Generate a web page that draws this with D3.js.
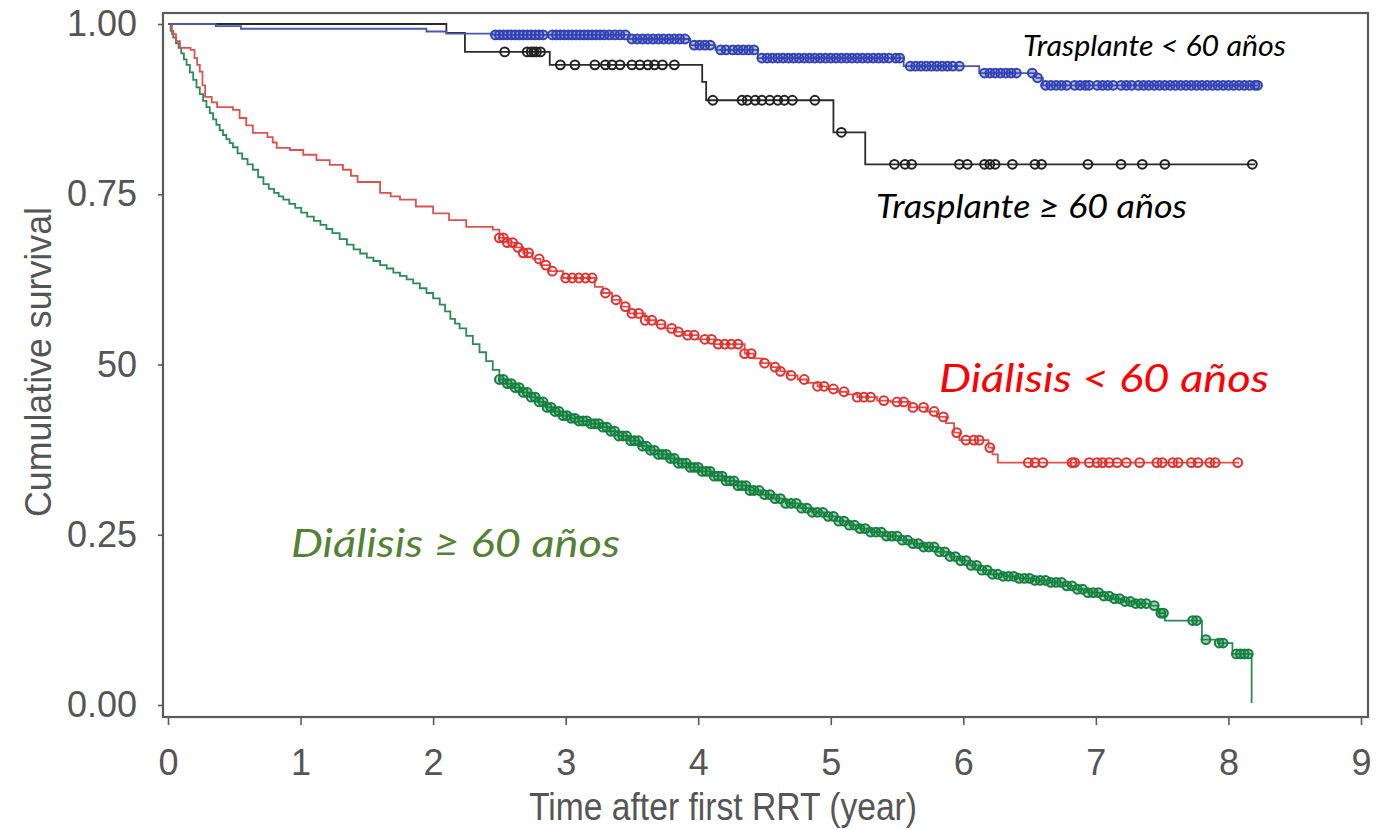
<!DOCTYPE html>
<html>
<head>
<meta charset="utf-8">
<script src="https://cdn.jsdelivr.net/npm/d3@7"></script>
<style>
  html, body { margin: 0; padding: 0; background: #fff; }
  svg { display: block; }
</style>
</head>
<body>
<svg id="chart" width="1377" height="830"></svg>
<script>
// Kaplan-Meier survival by renal replacement therapy and age group

const xTicks = [0, 1, 2, 3, 4, 5, 6, 7, 8, 9];
const yTicks = [0, 0.25, 0.5, 0.75, 1];
const yTickLabels = ["0.00", "0.25", "50", "0.75", "1.00"];

// Trasplante < 60 años
const trasMenorT = [0, 0.36, 0.55, 1.95, 2.10, 2.45, 3.48, 3.94, 4.13, 4.45, 5.55, 6.12, 6.55, 6.60, 8.22];
const trasMenorS = [1.0, 0.997, 0.993, 0.989, 0.986, 0.984, 0.978, 0.969, 0.962, 0.950, 0.938, 0.928, 0.921, 0.910, 0.910];
const trasMenorCens = [2.47, 2.50, 2.53, 2.56, 2.59, 2.62, 2.65, 2.68, 2.71, 2.74, 2.77, 2.80, 2.83,
  2.90, 2.93, 2.96, 2.99, 3.02, 3.05, 3.08, 3.11, 3.14, 3.17, 3.20, 3.23, 3.26, 3.29, 3.33, 3.37, 3.41, 3.45,
  3.50, 3.54, 3.58, 3.62, 3.66, 3.70, 3.74, 3.78, 3.82, 3.86, 3.90, 3.97, 4.01, 4.05, 4.09,
  4.17, 4.21, 4.26, 4.30, 4.34, 4.38, 4.42, 4.48, 4.52, 4.56, 4.60, 4.64, 4.68, 4.72, 4.76, 4.80, 4.84,
  4.88, 4.92, 4.96, 5.00, 5.04, 5.08, 5.12, 5.16, 5.20, 5.24, 5.28, 5.32, 5.36, 5.40, 5.44, 5.49, 5.52,
  5.60, 5.64, 5.68, 5.72, 5.76, 5.80, 5.84, 5.88, 5.92, 5.97, 6.16, 6.20, 6.24, 6.28, 6.32, 6.36, 6.40,
  6.52, 6.56, 6.62, 6.66, 6.70, 6.74, 6.78, 6.84, 6.88, 6.92, 6.95, 7.01, 7.05, 7.09, 7.13, 7.19, 7.23,
  7.27, 7.32, 7.36, 7.40, 7.44, 7.48, 7.52, 7.56, 7.60, 7.64, 7.68, 7.72, 7.76, 7.80, 7.84, 7.88, 7.92,
  7.96, 8.00, 8.04, 8.08, 8.12, 8.16, 8.20, 8.22];

// Trasplante ≥ 60 años
const trasMayorT = [0, 2.10, 2.24, 2.88, 4.03, 4.06, 5.02, 5.26, 8.20];
const trasMayorS = [1.0, 0.987, 0.959, 0.940, 0.915, 0.888, 0.841, 0.794, 0.794];
const trasMayorCens = [2.54, 2.71, 2.74, 2.76, 2.78, 2.81, 2.96, 3.07, 3.22, 3.30, 3.35, 3.41, 3.50, 3.56,
  3.62, 3.67, 3.73, 3.82, 4.11, 4.33, 4.37, 4.43, 4.48, 4.54, 4.60, 4.65, 4.71, 4.88, 5.08, 5.48, 5.56,
  5.61, 5.97, 6.03, 6.16, 6.20, 6.24, 6.37, 6.54, 6.59, 6.94, 7.19, 7.35, 7.52, 8.18];

// Diálisis < 60 años
const dialMenorT = [0, 0.03, 0.06, 0.09, 0.17, 0.20, 0.22, 0.24, 0.26, 0.28, 0.33, 0.37, 0.49, 0.54, 0.59,
  0.64, 0.75, 0.79, 0.82, 0.92, 1.02, 1.12, 1.22, 1.32, 1.38, 1.43, 1.60, 1.68, 1.75, 1.87, 2.00, 2.12,
  2.25, 2.45, 2.50, 2.56, 2.62, 2.68, 2.75, 2.81, 2.88, 2.98, 3.22, 3.28, 3.35, 3.42, 3.48, 3.60, 3.68,
  3.75, 3.82, 3.90, 4.00, 4.12, 4.35, 4.42, 4.48, 4.55, 4.62, 4.68, 4.75, 4.82, 4.90, 4.97, 5.05, 5.12,
  5.20, 5.35, 5.45, 5.60, 5.72, 5.80, 5.87, 5.93, 5.97, 6.19, 6.22, 6.26, 8.08];
const dialMenorS = [1.0, 0.985, 0.975, 0.965, 0.962, 0.950, 0.940, 0.930, 0.910, 0.893, 0.885, 0.878, 0.874,
  0.862, 0.851, 0.840, 0.834, 0.826, 0.818, 0.815, 0.808, 0.800, 0.793, 0.786, 0.777, 0.768, 0.752, 0.747,
  0.742, 0.732, 0.722, 0.712, 0.702, 0.698, 0.686, 0.679, 0.672, 0.664, 0.655, 0.646, 0.637, 0.627, 0.614,
  0.605, 0.595, 0.585, 0.575, 0.565, 0.559, 0.553, 0.548, 0.543, 0.537, 0.530, 0.516, 0.509, 0.502, 0.496,
  0.490, 0.484, 0.478, 0.473, 0.468, 0.464, 0.460, 0.456, 0.452, 0.447, 0.445, 0.437, 0.431, 0.423, 0.414,
  0.400, 0.389, 0.378, 0.368, 0.356, 0.356];
const dialMenorCens = [2.50, 2.53, 2.56, 2.60, 2.64, 2.68, 2.72, 2.80, 2.85, 2.90, 3.00, 3.05, 3.10, 3.15,
  3.20, 3.30, 3.38, 3.45, 3.50, 3.55, 3.60, 3.65, 3.72, 3.80, 3.85, 3.92, 3.97, 4.05, 4.10, 4.15, 4.20,
  4.25, 4.30, 4.35, 4.40, 4.50, 4.58, 4.62, 4.70, 4.80, 4.90, 4.95, 5.02, 5.10, 5.20, 5.25, 5.30, 5.40,
  5.50, 5.55, 5.62, 5.70, 5.78, 5.85, 5.95, 6.02, 6.08, 6.12, 6.20, 6.49, 6.54, 6.60, 6.82, 6.84, 6.95,
  7.01, 7.05, 7.10, 7.16, 7.23, 7.33, 7.46, 7.50, 7.58, 7.62, 7.72, 7.77, 7.86, 7.90, 8.07];

// Diálisis ≥ 60 años
const dialMayorT = [0, 0.02, 0.04, 0.06, 0.08, 0.10, 0.12, 0.14, 0.165, 0.19, 0.215, 0.24, 0.265, 0.29,
  0.315, 0.34, 0.365, 0.39, 0.415, 0.44, 0.465, 0.49, 0.525, 0.56, 0.60, 0.64, 0.68, 0.72, 0.76, 0.80,
  0.835, 0.87, 0.915, 0.96, 1.005, 1.05, 1.10, 1.15, 1.195, 1.24, 1.295, 1.35, 1.40, 1.45, 1.50, 1.55,
  1.60, 1.65, 1.70, 1.75, 1.80, 1.85, 1.90, 1.95, 2.00, 2.05, 2.09, 2.13, 2.165, 2.20, 2.25, 2.30, 2.35,
  2.40, 2.45, 2.50, 2.55, 2.60, 2.665, 2.73, 2.79, 2.85, 2.905, 2.96, 3.03, 3.10, 3.18, 3.26, 3.33, 3.40,
  3.48, 3.56, 3.63, 3.70, 3.775, 3.85, 3.93, 4.01, 4.105, 4.20, 4.295, 4.39, 4.47, 4.55, 4.66, 4.77, 4.86,
  4.95, 5.045, 5.14, 5.22, 5.30, 5.41, 5.52, 5.61, 5.70, 5.80, 5.90, 5.975, 6.05, 6.125, 6.20, 6.30, 6.40,
  6.525, 6.65, 6.75, 6.85, 6.94, 7.03, 7.115, 7.20, 7.30, 7.40, 7.47, 7.52, 7.80, 7.92, 8.03, 8.175];
const dialMayorS = [1.0, 0.990, 0.980, 0.972, 0.965, 0.957, 0.948, 0.940, 0.929, 0.918, 0.907, 0.897, 0.887,
  0.878, 0.869, 0.860, 0.852, 0.844, 0.837, 0.831, 0.825, 0.819, 0.810, 0.802, 0.794, 0.786, 0.775, 0.765,
  0.758, 0.752, 0.747, 0.742, 0.736, 0.730, 0.723, 0.717, 0.711, 0.705, 0.699, 0.693, 0.684, 0.676, 0.669,
  0.663, 0.657, 0.652, 0.646, 0.641, 0.635, 0.630, 0.625, 0.619, 0.612, 0.605, 0.597, 0.588, 0.578, 0.567,
  0.560, 0.553, 0.542, 0.530, 0.518, 0.505, 0.492, 0.478, 0.472, 0.466, 0.459, 0.452, 0.445, 0.437, 0.431,
  0.425, 0.421, 0.417, 0.413, 0.408, 0.402, 0.395, 0.388, 0.380, 0.374, 0.368, 0.362, 0.355, 0.349, 0.343,
  0.336, 0.329, 0.322, 0.315, 0.309, 0.303, 0.296, 0.289, 0.283, 0.277, 0.270, 0.264, 0.259, 0.254, 0.248,
  0.242, 0.237, 0.232, 0.225, 0.218, 0.212, 0.205, 0.198, 0.192, 0.189, 0.186, 0.183, 0.180, 0.175, 0.170,
  0.165, 0.160, 0.156, 0.152, 0.149, 0.146, 0.135, 0.124, 0.096, 0.091, 0.075, 0.003];
const dialMayorCens = [2.50, 2.53, 2.56, 2.59, 2.62, 2.65, 2.68, 2.71, 2.74, 2.77, 2.80, 2.83, 2.86, 2.89,
  2.92, 2.95, 2.98, 3.01, 3.04, 3.07, 3.10, 3.13, 3.16, 3.19, 3.22, 3.25, 3.28, 3.31, 3.34, 3.37, 3.40,
  3.43, 3.46, 3.49, 3.52, 3.55, 3.58, 3.61, 3.64, 3.67, 3.70, 3.73, 3.76, 3.79, 3.82, 3.85, 3.88, 3.91,
  3.94, 3.97, 4.00, 4.03, 4.06, 4.09, 4.12, 4.15, 4.18, 4.21, 4.24, 4.27, 4.30, 4.33, 4.36, 4.39, 4.42,
  4.46, 4.50, 4.54, 4.58, 4.62, 4.66, 4.70, 4.74, 4.78, 4.82, 4.86, 4.90, 4.94, 4.98, 5.02, 5.06, 5.10,
  5.14, 5.18, 5.22, 5.26, 5.30, 5.34, 5.38, 5.42, 5.46, 5.50, 5.54, 5.58, 5.62, 5.66, 5.70, 5.74, 5.78,
  5.82, 5.86, 5.90, 5.94, 5.98, 6.02, 6.06, 6.10, 6.14, 6.18, 6.22, 6.26, 6.30, 6.34, 6.38, 6.42, 6.46,
  6.50, 6.54, 6.58, 6.62, 6.66, 6.70, 6.74, 6.78, 6.82, 6.86, 6.90, 6.94, 6.98, 7.02, 7.06, 7.10, 7.14,
  7.18, 7.22, 7.26, 7.30, 7.34, 7.38, 7.44, 7.49, 7.51, 7.73, 7.76, 7.83, 7.93, 7.96, 8.06, 8.09, 8.12, 8.15];

const series = [
  { T: dialMayorT, S: dialMayorS, cens: dialMayorCens, line: "#2a8c55", mark: "#15803f", fill: "#15803f" },
  { T: dialMenorT, S: dialMenorS, cens: dialMenorCens, line: "#e0504c", mark: "#e3322e", fill: "none" },
  { T: trasMayorT, S: trasMayorS, cens: trasMayorCens, line: "#2a2a2a", mark: "#222222", fill: "none" },
  { T: trasMenorT, S: trasMenorS, cens: trasMenorCens, line: "#4a58b0", mark: "#3242b4", fill: "#3242b4" }
];

const svg = d3.select("#chart");
const x = d3.scaleLinear().domain([0, 9]).range([168, 1361]);
const y = d3.scaleLinear().domain([0, 1]).range([705, 24]);

const frame = { left: 163, top: 13, right: 1368, bottom: 717 };
const axisColor = "#555";
const fontAxis = "'Liberation Sans', Arial, Helvetica, sans-serif";

// Plot box
svg.append("rect")
  .attr("x", frame.left).attr("y", frame.top)
  .attr("width", frame.right - frame.left).attr("height", frame.bottom - frame.top)
  .attr("fill", "none").attr("stroke", "#5a5a5a").attr("stroke-width", 2.2);

// Axes
const yAxis = d3.axisLeft(y).tickValues(yTicks)
  .tickFormat((d, i) => yTickLabels[i]).tickSize(5).tickPadding(21);
const gy = svg.append("g").attr("transform", `translate(${frame.left},0)`).call(yAxis);
gy.select(".domain").remove();

const xAxis = d3.axisBottom(x).tickValues(xTicks).tickFormat(d3.format("d")).tickSize(8).tickPadding(24);
const gx = svg.append("g").attr("transform", `translate(0,${frame.bottom})`).call(xAxis);
gx.select(".domain").remove();

[gx, gy].forEach(g => {
  g.selectAll("line").attr("stroke", "#5a5a5a").attr("stroke-width", 1.6);
  g.selectAll("text").attr("fill", axisColor).style("font-family", fontAxis).style("font-size", "36px");
});

// Axis titles
svg.append("text")
  .attr("x", 723).attr("y", 820)
  .attr("text-anchor", "middle")
  .attr("textLength", 388).attr("lengthAdjust", "spacingAndGlyphs")
  .style("font-family", fontAxis).style("font-size", "38px").attr("fill", axisColor)
  .text("Time after first RRT (year)");

svg.append("text")
  .attr("transform", "translate(51,362) rotate(-90)")
  .attr("text-anchor", "middle")
  .attr("textLength", 310).attr("lengthAdjust", "spacingAndGlyphs")
  .style("font-family", fontAxis).style("font-size", "37px").attr("fill", axisColor)
  .text("Cumulative survival");

// Survival step curves with censoring marks
const line = d3.line()
  .x(d => x(d[0]))
  .y(d => y(d[1]))
  .curve(d3.curveStepAfter);

const bis = d3.bisector(d => d).right;

series.forEach(s => {
  const pts = s.T.map((t, i) => [t, s.S[i]]);
  const g = svg.append("g");
  g.append("path")
    .attr("d", line(pts))
    .attr("fill", "none")
    .attr("stroke", s.line)
    .attr("stroke-width", 1.8);
  g.selectAll("circle")
    .data(s.cens)
    .join("circle")
    .attr("cx", t => x(t))
    .attr("cy", t => {
      const k = Math.max(0, bis(s.T, t) - 1);
      return y(s.S[k]);
    })
    .attr("r", 4.4)
    .attr("fill", s.fill)
    .attr("fill-opacity", 0.35)
    .attr("stroke", s.mark)
    .attr("stroke-width", 2);
});

// Group labels
const fontLabel = "Lato, 'Open Sans', 'Noto Sans', sans-serif";
const labels = [
  { text: "Trasplante < 60 años", x: 1023, y: 56, size: 28, len: 263, color: "#000000" },
  { text: "Trasplante ≥ 60 años", x: 876, y: 218, size: 33, len: 311, color: "#000000" },
  { text: "Diálisis < 60 años", x: 939, y: 392, size: 38, len: 330, color: "#ff0000" },
  { text: "Diálisis ≥ 60 años", x: 291, y: 557, size: 38, len: 329, color: "#548235" }
];
labels.forEach(l => {
  svg.append("text")
    .attr("x", l.x).attr("y", l.y)
    .attr("textLength", l.len).attr("lengthAdjust", "spacingAndGlyphs")
    .style("font-family", fontLabel).style("font-style", "italic")
    .style("font-size", l.size + "px").attr("fill", l.color)
    .text(l.text);
});
</script>
</body>
</html>
